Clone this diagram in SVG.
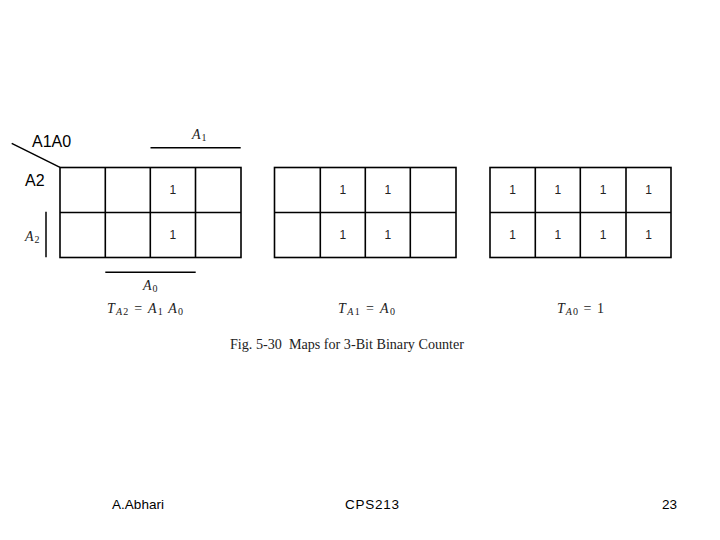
<svg xmlns="http://www.w3.org/2000/svg" width="720" height="540" viewBox="0 0 720 540">
<style>
.grid{fill:none;stroke:#000;stroke-width:1.6}
.ln{stroke:#000;stroke-width:1.5;fill:none}
.one{font-family:"Liberation Sans",Arial,sans-serif;font-size:12px;fill:#222;text-anchor:middle}
.lab{font-family:"Liberation Sans",Arial,sans-serif;font-size:16px;fill:#000}
.math{font-family:"Liberation Serif","Times New Roman",serif;font-size:14px;fill:#222}
.it{font-style:italic}
.sub{font-size:10px}
.cap{font-family:"Liberation Serif","Times New Roman",serif;font-size:14px;fill:#222}
.foot{font-family:"Liberation Sans",Arial,sans-serif;font-size:13.5px;fill:#000}
</style>
<rect width="720" height="540" fill="#fff"/>
<g id="map1">
<rect class="grid" x="60" y="167.5" width="181" height="90"/>
<path class="grid" d="M105.3 167.5V257.5M150.3 167.5V257.5M195.5 167.5V257.5M60 212.5H241"/>
<text class="one" x="172.8" y="194">1</text>
<text class="one" x="172.8" y="239">1</text>
</g>
<g id="map2">
<rect class="grid" x="274.5" y="167.5" width="181.5" height="90"/>
<path class="grid" d="M320.3 167.5V257.5M365.3 167.5V257.5M410.3 167.5V257.5M274.5 212.5H456"/>
<text class="one" x="342.8" y="194">1</text>
<text class="one" x="387.8" y="194">1</text>
<text class="one" x="342.8" y="239">1</text>
<text class="one" x="387.8" y="239">1</text>
</g>
<g id="map3">
<rect class="grid" x="490" y="167.5" width="181" height="90"/>
<path class="grid" d="M535.3 167.5V257.5M580.3 167.5V257.5M626 167.5V257.5M490 212.5H671"/>
<text class="one" x="512.6" y="194">1</text>
<text class="one" x="557.8" y="194">1</text>
<text class="one" x="603.1" y="194">1</text>
<text class="one" x="648.5" y="194">1</text>
<text class="one" x="512.6" y="239">1</text>
<text class="one" x="557.8" y="239">1</text>
<text class="one" x="603.1" y="239">1</text>
<text class="one" x="648.5" y="239">1</text>
</g>
<g id="connectors">
<line class="ln" x1="11.7" y1="143.3" x2="60" y2="167.3" stroke-width="1"/>
<line class="ln" x1="150.5" y1="147.8" x2="240.7" y2="147.8"/>
<line class="ln" x1="46" y1="211.7" x2="46" y2="257.3"/>
<line class="ln" x1="105.3" y1="272.3" x2="195.7" y2="272.3"/>
</g>
<g id="labels">
<text class="lab" x="32" y="147">A1A0</text>
<text class="lab" x="25" y="186">A2</text>
<text class="math" x="192" y="139"><tspan class="it">A</tspan><tspan class="sub" dx="1" dy="2">1</tspan></text>
<text class="math" x="25" y="241"><tspan class="it">A</tspan><tspan class="sub" dx="1" dy="2">2</tspan></text>
<text class="math" x="143" y="290"><tspan class="it">A</tspan><tspan class="sub" dx="1" dy="2">0</tspan></text>
<text class="math" x="107" y="313" textLength="76"><tspan class="it">T</tspan><tspan class="sub it" dy="2">A</tspan><tspan class="sub" >2</tspan><tspan dy="-2"> = </tspan><tspan class="it">A</tspan><tspan class="sub" dy="2">1</tspan><tspan class="it" dy="-2"> A</tspan><tspan class="sub" dy="2">0</tspan></text>
<text class="math" x="338" y="313" textLength="57"><tspan class="it">T</tspan><tspan class="sub it" dy="2">A</tspan><tspan class="sub">1</tspan><tspan dy="-2"> = </tspan><tspan class="it">A</tspan><tspan class="sub" dy="2">0</tspan></text>
<text class="math" x="557" y="313" textLength="47"><tspan class="it">T</tspan><tspan class="sub it" dy="2">A</tspan><tspan class="sub">0</tspan><tspan dy="-2"> = 1</tspan></text>
<text class="cap" x="230" y="349" textLength="234" lengthAdjust="spacingAndGlyphs">Fig. 5-30&#160; Maps for 3-Bit Binary Counter</text>
</g>
<g id="footer">
<text class="foot" x="112" y="509" textLength="52">A.Abhari</text>
<text class="foot" x="345" y="509" textLength="54">CPS213</text>
<text class="foot" x="662" y="509" textLength="15">23</text>
</g>
</svg>
